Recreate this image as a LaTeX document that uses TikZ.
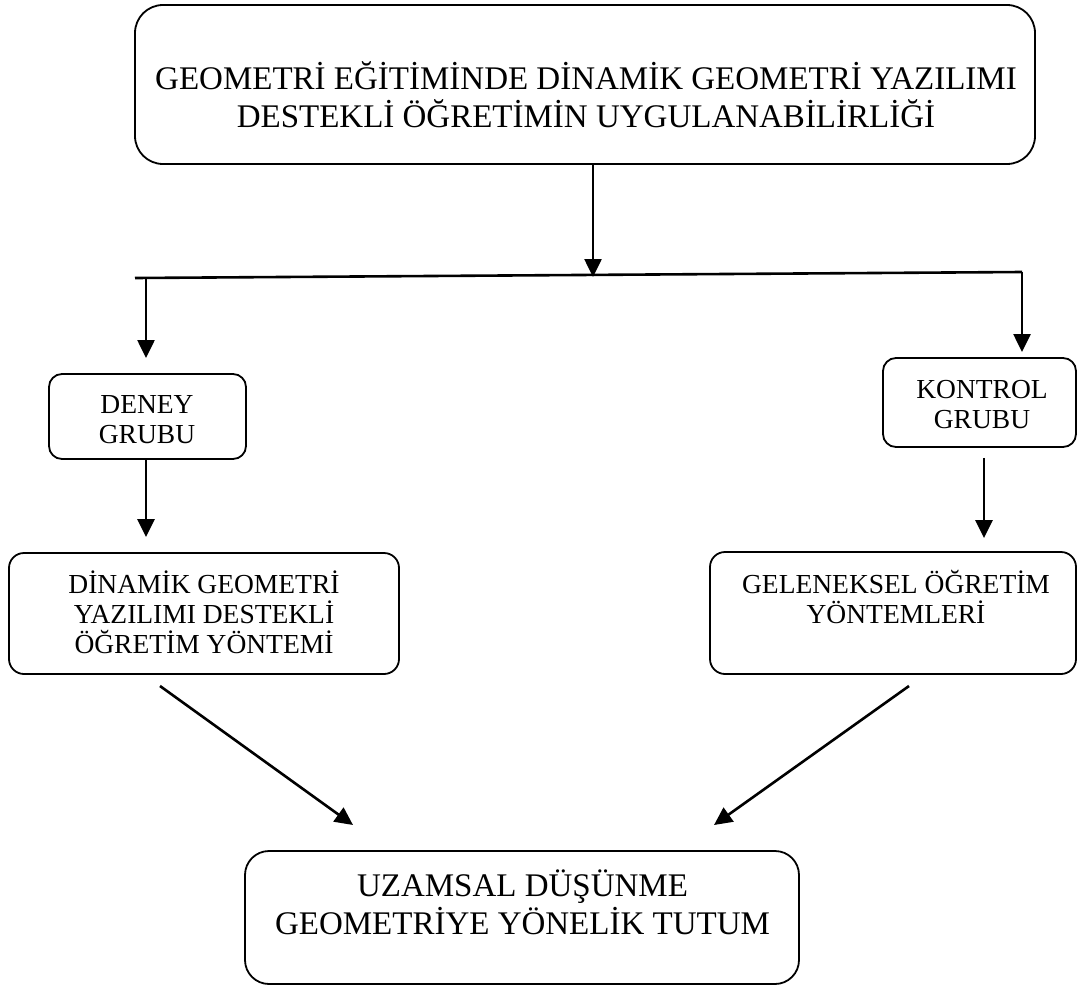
\documentclass[tikz,border=0pt]{standalone}
\usepackage{fontspec}
\setmainfont{Liberation Serif}
\usetikzlibrary{arrows.meta,calc}
\newcommand\myst{\rule{0pt}{0.95em}}
\begin{document}
\begin{tikzpicture}[x=1pt,y=-1pt,
  box/.style={draw, line width=1.8pt, inner sep=0pt},
  bigtxt/.style={align=center, inner sep=0pt, anchor=north, font=\fontsize{33}{38.5}\selectfont},
  midtxt/.style={align=center, inner sep=0pt, anchor=north, font=\fontsize{27.5}{30}\selectfont},
  conn/.style={line width=2.6pt},
  arr/.style={conn, -{Triangle[length=18pt,width=17pt]}}]
\useasboundingbox (0,0) rectangle (1077,985);
% boxes
\node[box, rounded corners=28pt, minimum width=900pt, minimum height=159pt] (top) at (585,84.5) {};
\node[box, rounded corners=13pt, minimum width=197pt, minimum height=85pt] (deney) at (147.5,416.5) {};
\node[box, rounded corners=15pt, minimum width=390pt, minimum height=121pt] (dinamik) at (204,613.5) {};
\node[box, rounded corners=13pt, minimum width=193pt, minimum height=89pt] (kontrol) at (979.5,402.5) {};
\node[box, rounded corners=15pt, minimum width=366pt, minimum height=122pt] (geleneksel) at (893,613) {};
\node[box, rounded corners=24pt, minimum width=554pt, minimum height=133pt] (bottom) at (522,917.5) {};
% texts
\node[bigtxt] (topt) at (586,57.65) {\myst GEOMETRİ EĞİTİMİNDE DİNAMİK GEOMETRİ YAZILIMI\\DESTEKLİ ÖĞRETİMİN UYGULANABİLİRLİĞİ};
\node[midtxt] (deneyt) at (147,386.9) {\myst DENEY\\GRUBU};
\node[midtxt] (dinamikt) at (204,566.9) {\myst DİNAMİK GEOMETRİ\\YAZILIMI DESTEKLİ\\ÖĞRETİM YÖNTEMİ};
\node[midtxt] (kontrolt) at (982,371.9) {\myst KONTROL\\GRUBU};
\node[midtxt] (geleneksel t) at (896,566.9) {\myst GELENEKSEL ÖĞRETİM\\YÖNTEMLERİ};
\node[bigtxt] (bottomt) at (522.5,864.65) {\myst UZAMSAL DÜŞÜNME\\GEOMETRİYE YÖNELİK TUTUM};
% connector coordinates
\coordinate (busL) at (135,278);
\coordinate (busR) at (1022,272);
\coordinate (busM) at (593,277);
\coordinate (busD) at (146,278);
\coordinate (dTip) at (146,358);
\coordinate (kTip) at (1022,352);
\coordinate (dx) at (146,0);
\coordinate (kx) at (984,0);
\coordinate (a1) at (160,686);
\coordinate (a2) at (353,825);
\coordinate (b1) at (909,686);
\coordinate (b2) at (714,825);
% connectors
\draw[arr] (top.south -| busM) -- (busM);
\draw[conn] (busL) -- (busR);
\draw[arr] (busD) -- (dTip);
\draw[arr] (busR) -- (kTip);
\draw[arr, shorten >=15pt] (deney.south -| dx) -- (dinamik.north -| dx);
\draw[arr, shorten <=10pt, shorten >=13pt] (kontrol.south -| kx) -- (geleneksel.north -| kx);
\draw[arr] (a1) -- (a2);
\draw[arr] (b1) -- (b2);
\end{tikzpicture}
\end{document}
